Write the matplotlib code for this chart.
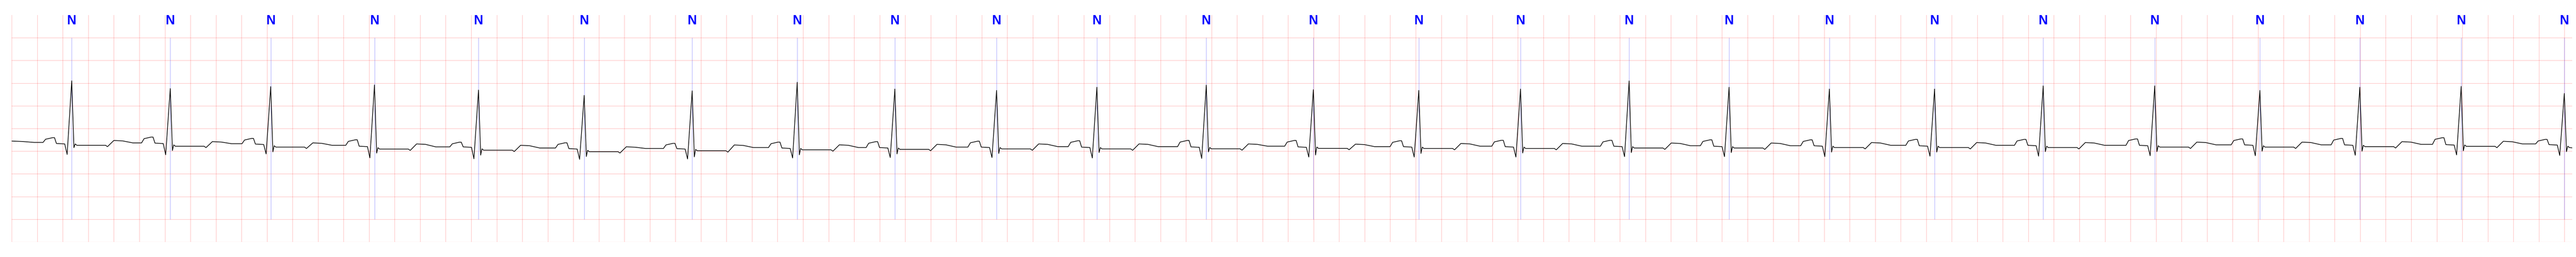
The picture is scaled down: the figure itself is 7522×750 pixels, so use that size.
import numpy as np
import matplotlib.pyplot as plt

# beat annotations: R peak time (s) and label
beat_t = [0.470, 1.242, 2.029, 2.842, 3.657, 4.485, 5.331, 6.154, 6.919, 7.716,
          8.502, 9.359, 10.198, 11.024, 11.821, 12.672, 13.455, 14.241, 15.065, 15.916,
          16.790, 17.614, 18.397, 19.191, 19.999]
beat_sym = ['N'] * 25

# per beat levels (mV)
r_amp = [1.052, 0.881, 0.924, 0.961, 0.848, 0.730, 0.831, 1.020, 0.870, 0.840,
         0.910, 0.957, 0.856, 0.840, 0.870, 1.050, 0.910, 0.870, 0.870, 0.940,
         0.940, 0.840, 0.910, 0.929, 0.773]
q_amp = [-0.572, -0.579, -0.561, -0.647, -0.667, -0.680, -0.672, -0.650, -0.640, -0.640,
         -0.650, -0.659, -0.629, -0.630, -0.630, -0.620, -0.620, -0.620, -0.610, -0.610,
         -0.600, -0.600, -0.590, -0.582, -0.594]
s_amp = [-0.423, -0.486, -0.514, -0.542, -0.587, -0.617, -0.625, -0.580, -0.560, -0.550,
         -0.530, -0.516, -0.584, -0.550, -0.540, -0.530, -0.530, -0.520, -0.520, -0.510,
         -0.510, -0.500, -0.500, -0.491, -0.511]
st_lvl = [-0.370, -0.391, -0.410, -0.453, -0.478, -0.511, -0.491, -0.470, -0.460, -0.450,
          -0.450, -0.448, -0.438, -0.440, -0.440, -0.430, -0.430, -0.420, -0.420, -0.420,
          -0.410, -0.410, -0.400, -0.393, -0.420]
t_lvl = [-0.264, -0.289, -0.317, -0.340, -0.370, -0.403, -0.363, -0.360, -0.350, -0.340,
         -0.340, -0.340, -0.345, -0.330, -0.330, -0.320, -0.320, -0.310, -0.310, -0.310,
         -0.300, -0.300, -0.290, -0.282, -0.300]
tp_lvl = [-0.318, -0.335, -0.370, -0.405, -0.430, -0.440, -0.420, -0.420, -0.410, -0.400,
          -0.400, -0.390, -0.400, -0.390, -0.390, -0.380, -0.380, -0.370, -0.370, -0.370,
          -0.360, -0.360, -0.350, -0.340, -0.350]
p_lvl = [-0.202, -0.189, -0.219, -0.249, -0.302, -0.315, -0.327, -0.300, -0.290, -0.280,
         -0.270, -0.264, -0.264, -0.270, -0.260, -0.260, -0.250, -0.250, -0.240, -0.240,
         -0.230, -0.230, -0.220, -0.204, -0.240]
pr_lvl = [-0.340, -0.332, -0.353, -0.400, -0.415, -0.453, -0.453, -0.440, -0.430, -0.420,
          -0.420, -0.415, -0.415, -0.410, -0.410, -0.400, -0.400, -0.390, -0.390, -0.380,
          -0.380, -0.370, -0.370, -0.365, -0.365]

# trace before the first P wave and at the right end
head_t = [0.0, 0.087, 0.176]
head_v = [-0.277, -0.287, -0.307]
tail_t = [20.061]
tail_v = [-0.427]

# beat shape: time offsets from the R peak (s)
P_ON, P_UP, P_TOP1, P_TOP2, P_OFF = -0.225, -0.205, -0.150, -0.135, -0.120
Q_ON, Q_PK, S_PK, J_PT, ST_ON = -0.055, -0.036, 0.017, 0.027, 0.040
T_ON, T_DIP, T_PK, T_DN, T_OFF = 0.265, 0.280, 0.330, 0.400, 0.480

t_end = 20.061

xs = list(head_t)
ys = list(head_v)
prev_tp = head_v[-1]
for i in range(len(beat_t)):
    t0 = beat_t[i]
    pts = [(P_ON, prev_tp), (P_UP, p_lvl[i] - 0.035), (P_TOP1, p_lvl[i]),
           (P_TOP2, p_lvl[i]), (P_OFF, pr_lvl[i] + 0.01), (Q_ON, pr_lvl[i]),
           (Q_PK, q_amp[i]), (0.0, r_amp[i]), (S_PK, s_amp[i]),
           (J_PT, st_lvl[i] + 0.03), (ST_ON, st_lvl[i])]
    if i < len(beat_t) - 1:
        pts += [(T_ON, st_lvl[i]), (T_DIP, st_lvl[i] - 0.03), (T_PK, t_lvl[i]),
                (T_DN, t_lvl[i] - 0.01), (T_OFF, tp_lvl[i])]
    for dt, v in pts:
        xs.append(t0 + dt)
        ys.append(v)
    prev_tp = tp_lvl[i]
xs += tail_t
ys += tail_v

fig = plt.figure(figsize=(75.22, 7.5), dpi=100)
ax = fig.add_axes([34.3 / 7522, 44 / 750, 7476.7 / 7522, 662 / 750])

ax.plot(xs, ys, color='black', lw=1.4, zorder=3)
ax.vlines(beat_t, -2.0, 2.0, color='blue', alpha=0.5, lw=0.6, zorder=2)
for t0, sym in zip(beat_t, beat_sym):
    ax.text(t0, 2.296, sym, color='blue', fontsize=27, fontweight='bold',
            family='Liberation Sans', ha='center', va='baseline')

ax.set_xlim(0, t_end)
ax.set_ylim(-2.5, 2.5)
ax.set_xticks(np.arange(101) * 0.2)
ax.set_yticks(np.arange(10) * 0.5 - 2.5)
ax.grid(True, color='red', alpha=0.25, lw=1)
ax.tick_params(length=0, labelbottom=False, labelleft=False)
for s in ax.spines.values():
    s.set_visible(False)

fig.savefig('out.png', dpi=100)
